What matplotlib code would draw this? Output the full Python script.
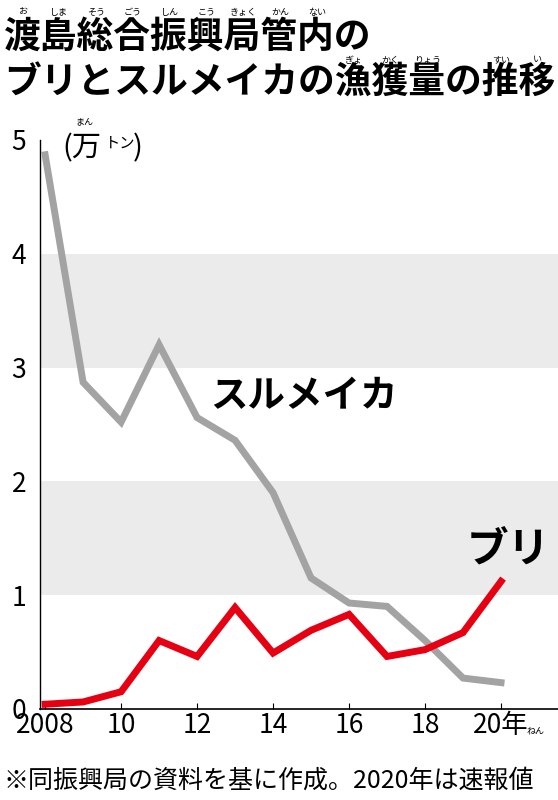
import matplotlib
matplotlib.use("Agg")
import matplotlib.pyplot as plt

plt.rcParams['font.family'] = ['Noto Sans CJK JP', 'DejaVu Sans']

years = list(range(2008, 2021))
surume = [4.87, 2.87, 2.52, 3.20, 2.56, 2.36, 1.90, 1.15, 0.93, 0.90, 0.60, 0.27, 0.23]
buri = [0.04, 0.06, 0.15, 0.60, 0.46, 0.89, 0.49, 0.69, 0.83, 0.46, 0.52, 0.67, 1.12]
xticks = [2008, 2010, 2012, 2014, 2016, 2018, 2020]
xlabels = ["2008", "10", "12", "14", "16", "18", "20年"]
yticks = [0, 1, 2, 3, 4, 5]

fig = plt.figure(figsize=(5.58, 8), dpi=100)
ax = fig.add_axes([0.072, 0.114, 0.928, 0.711])
ax.set_xlim(2007.87, 2021.5)
ax.set_ylim(0, 5)
for lo in (1, 3):
    ax.axhspan(lo, lo + 1, color='#ebebeb', zorder=0, lw=0)
ax.plot(years, surume, color='#a3a3a3', lw=5, solid_joinstyle='miter', zorder=3)
ax.plot(years, buri, color='#e60012', lw=5, solid_joinstyle='miter', zorder=4)
for s in ('top', 'right'):
    ax.spines[s].set_visible(False)
ax.spines['left'].set_linewidth(1)
ax.spines['bottom'].set_linewidth(1.2)
ax.set_yticks(yticks)
ax.set_yticklabels([str(v) for v in yticks], fontsize=19)
ax.set_xticks(xticks)
ax.set_xticklabels(xlabels, fontsize=19)
ax.tick_params(axis='y', length=0, pad=10)
ax.tick_params(axis='x', length=4, direction='in', pad=2)

ax.text(2012.35, 2.75, "スルメイカ", fontsize=27, fontweight='bold', ha='left', va='center')
ax.text(2019.1, 1.4, "ブリ", fontsize=30, fontweight='bold', ha='left', va='center')

# title
fig.text(0.007, 0.953, "渡島総合振興局管内の", fontsize=26.5, fontweight='bold', ha='left', va='center')
fig.text(0.007, 0.896, "ブリとスルメイカの漁獲量の推移", fontsize=26.5, fontweight='bold', ha='left', va='center')
cw = 36.8
r1 = ["お", "しま", "そう", "ごう", "しん", "こう", "きょく", "かん", "ない"]
for i, r in enumerate(r1):
    fig.text((4 + cw / 2 + cw * i) / 558, 1 - 12 / 800, r, fontsize=6.5, ha='center', va='center')
r2 = {9: "ぎょ", 10: "かく", 11: "りょう", 13: "すい", 14: "い"}
for i, r in r2.items():
    fig.text((4 + cw / 2 + cw * i) / 558, 1 - 60 / 800, r, fontsize=6.5, ha='center', va='center')

# unit
fig.text(62 / 558, 1 - 148 / 800, "(万", fontsize=21, ha='left', va='center')
fig.text(105 / 558, 1 - 143 / 800, "トン", fontsize=11, ha='left', va='center')
fig.text(133 / 558, 1 - 148 / 800, ")", fontsize=21, ha='left', va='center')
fig.text(84 / 558, 1 - 122 / 800, "まん", fontsize=6.5, ha='center', va='center')
fig.text(536 / 558, 1 - 731 / 800, "ねん", fontsize=6.5, ha='center', va='center')

fig.text(0.007, 1 - 781 / 800, "※同振興局の資料を基に作成。2020年は速報値", fontsize=18, ha='left', va='center')

fig.savefig("out.png", dpi=100)
